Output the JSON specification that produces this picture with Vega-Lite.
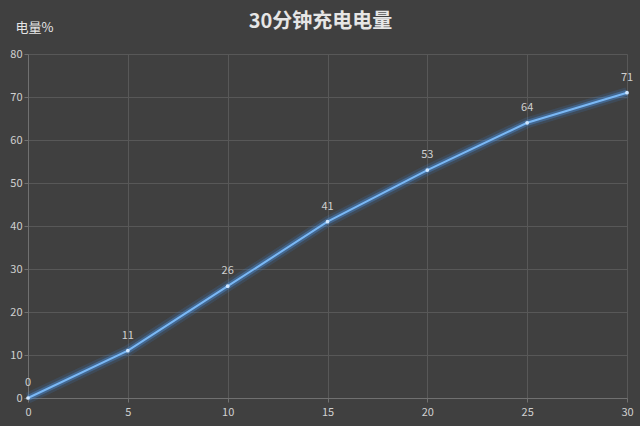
{
  "$schema": "https://vega.github.io/schema/vega-lite/v6.json",
  "autosize": {"type": "none"},
  "width": 599,
  "height": 344,
  "padding": {"left": 28, "top": 54, "right": 13, "bottom": 28},
  "background": "#404040",
  "config": {
    "view": {"stroke": null},
    "font": "Noto Sans CJK SC"
  },
  "title": {
    "text": "30分钟充电电量",
    "fontSize": 20,
    "fontWeight": "bold",
    "color": "#e6e6e6",
    "anchor": "middle",
    "dx": -7,
    "offset": -11
  },
  "data": {
    "values": [
      {"minute": 0, "charge": 0},
      {"minute": 5, "charge": 11},
      {"minute": 10, "charge": 26},
      {"minute": 15, "charge": 41},
      {"minute": 20, "charge": 53},
      {"minute": 25, "charge": 64},
      {"minute": 30, "charge": 71}
    ]
  },
  "encoding": {
    "x": {
      "field": "minute",
      "type": "quantitative",
      "scale": {"domain": [0, 30], "nice": false},
      "axis": {
        "values": [0, 5, 10, 15, 20, 25, 30],
        "title": null,
        "grid": true,
        "gridColor": "#585858",
        "domainColor": "#707070",
        "tickColor": "#707070",
        "tickSize": 4,
        "labelColor": "#d0d0d0",
        "labelFontSize": 11,
        "labelPadding": 4,
        "labelFlush": false
      }
    },
    "y": {
      "field": "charge",
      "type": "quantitative",
      "scale": {"domain": [0, 80], "nice": false},
      "axis": {
        "values": [0, 10, 20, 30, 40, 50, 60, 70, 80],
        "title": "电量%",
        "titleAngle": 0,
        "titleX": 6,
        "titleY": -27,
        "titleAlign": "center",
        "titleBaseline": "middle",
        "titleColor": "#e6e6e6",
        "titleFontSize": 13,
        "titleFontWeight": "normal",
        "grid": true,
        "gridColor": "#585858",
        "domainColor": "#707070",
        "tickColor": "#707070",
        "tickSize": 4,
        "labelColor": "#d0d0d0",
        "labelFontSize": 11,
        "labelPadding": 2
      }
    }
  },
  "layer": [
    {
      "mark": {"type": "line", "color": "#3d8ee8", "strokeWidth": 11, "opacity": 0.15}
    },
    {
      "mark": {"type": "line", "color": "#4a9cf0", "strokeWidth": 6, "opacity": 0.35}
    },
    {
      "mark": {"type": "line", "color": "#7ab8f5", "strokeWidth": 2}
    },
    {
      "mark": {"type": "point", "filled": true, "color": "#cfe6ff", "size": 14, "opacity": 1}
    },
    {
      "mark": {"type": "text", "dy": -15, "color": "#d0d0d0", "fontSize": 11},
      "encoding": {"text": {"field": "charge", "type": "quantitative"}}
    }
  ]
}
